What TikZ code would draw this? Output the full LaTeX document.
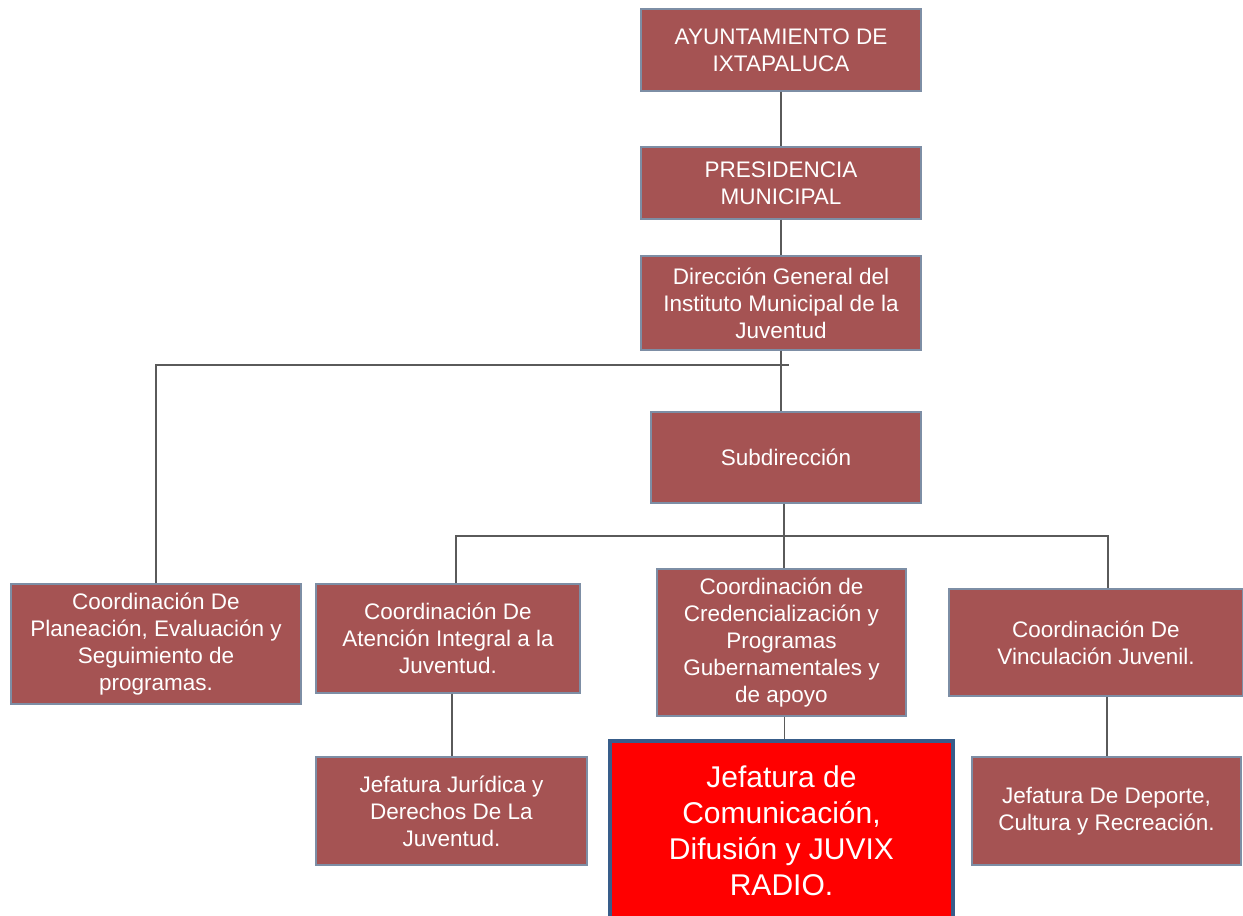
\documentclass[tikz,border=0pt]{standalone}
\usepackage{fontspec}
\setmainfont{Liberation Sans}
\definecolor{vino}{RGB}{165,83,83}
\definecolor{bordecaja}{RGB}{125,142,165}
\definecolor{bordeazul}{RGB}{56,93,138}
\definecolor{gris}{RGB}{90,90,90}
\begin{document}
\begin{tikzpicture}[x=1pt, y=-1pt,
	caja/.style={draw=bordecaja, line width=1.2pt, fill=vino, text=white, align=center, inner sep=2pt, font=\fontsize{22.5}{27}\selectfont},
	cajaroja/.style={draw=bordeazul, line width=4pt, fill=red, text=white, align=center, font=\fontsize{30}{36}\selectfont},
	linea/.style={draw=gris, line width=1.3pt}]
	\useasboundingbox[fill=white] (0,0) rectangle (1243,916);
	% niveles superiores
	\node[caja, minimum width=280, minimum height=82] (ayunt) at (781,50) {AYUNTAMIENTO DE\\IXTAPALUCA};
	\node[caja, minimum width=280, minimum height=72] (presid) at (781,183) {PRESIDENCIA\\MUNICIPAL};
	\node[caja, minimum width=280, minimum height=94] (direc) at (781,303) {Dirección General del\\Instituto Municipal de la\\Juventud};
	\node[caja, minimum width=270, minimum height=91] (subdir) at (786,457.5) {Subdirección};
	% coordinaciones
	\node[caja, minimum width=290, minimum height=120] (plan) at (156,644) {Coordinación De\\Planeación, Evaluación y\\Seguimiento de\\programas.};
	\node[caja, minimum width=264, minimum height=109] (aten) at (448,638.5) {Coordinación De\\Atención Integral a la\\Juventud.};
	\node[caja, minimum width=249, minimum height=147] (cred) at (781.5,642.5) {Coordinación de\\Credencialización y\\Programas\\Gubernamentales y\\de apoyo};
	\node[caja, minimum width=294, minimum height=107] (vinc) at (1096,642.5) {Coordinación De\\Vinculación Juvenil.};
	% jefaturas
	\node[caja, minimum width=271, minimum height=108] (jur) at (451.5,811) {Jefatura Jurídica y\\Derechos De La\\Juventud.};
	\node[cajaroja, minimum width=343, minimum height=180] (com) at (781.5,831) {Jefatura de\\Comunicación,\\Difusión y JUVIX\\RADIO.};
	\node[caja, minimum width=269, minimum height=108] (dep) at (1106.5,811) {Jefatura De Deporte,\\Cultura y Recreación.};
	\coordinate (bus1) at (789,365);
	\coordinate (bus2) at (784,536);
	% conectores
	\draw[linea] (ayunt) -- (presid);
	\draw[linea] (presid) -- (direc);
	\draw[linea] (direc.south) -- (direc.south |- subdir.north);
	\draw[linea] (plan.north) |- (bus1);
	\draw[linea] ([xshift=-2pt]subdir.south) -- ([xshift=-2pt]subdir.south |- cred.north);
	\draw[linea] ([xshift=8pt]aten.north) |- (bus2) -| ([xshift=12pt]vinc.north);
	\draw[linea] ([xshift=4pt]aten.south) -- ([xshift=4pt]aten.south |- jur.north);
	\draw[linea] ([xshift=3pt]cred.south) -- ([xshift=3pt]cred.south |- com.north);
	\draw[linea] ([xshift=11pt]vinc.south) -- ([xshift=11pt]vinc.south |- dep.north);
\end{tikzpicture}
\end{document}
